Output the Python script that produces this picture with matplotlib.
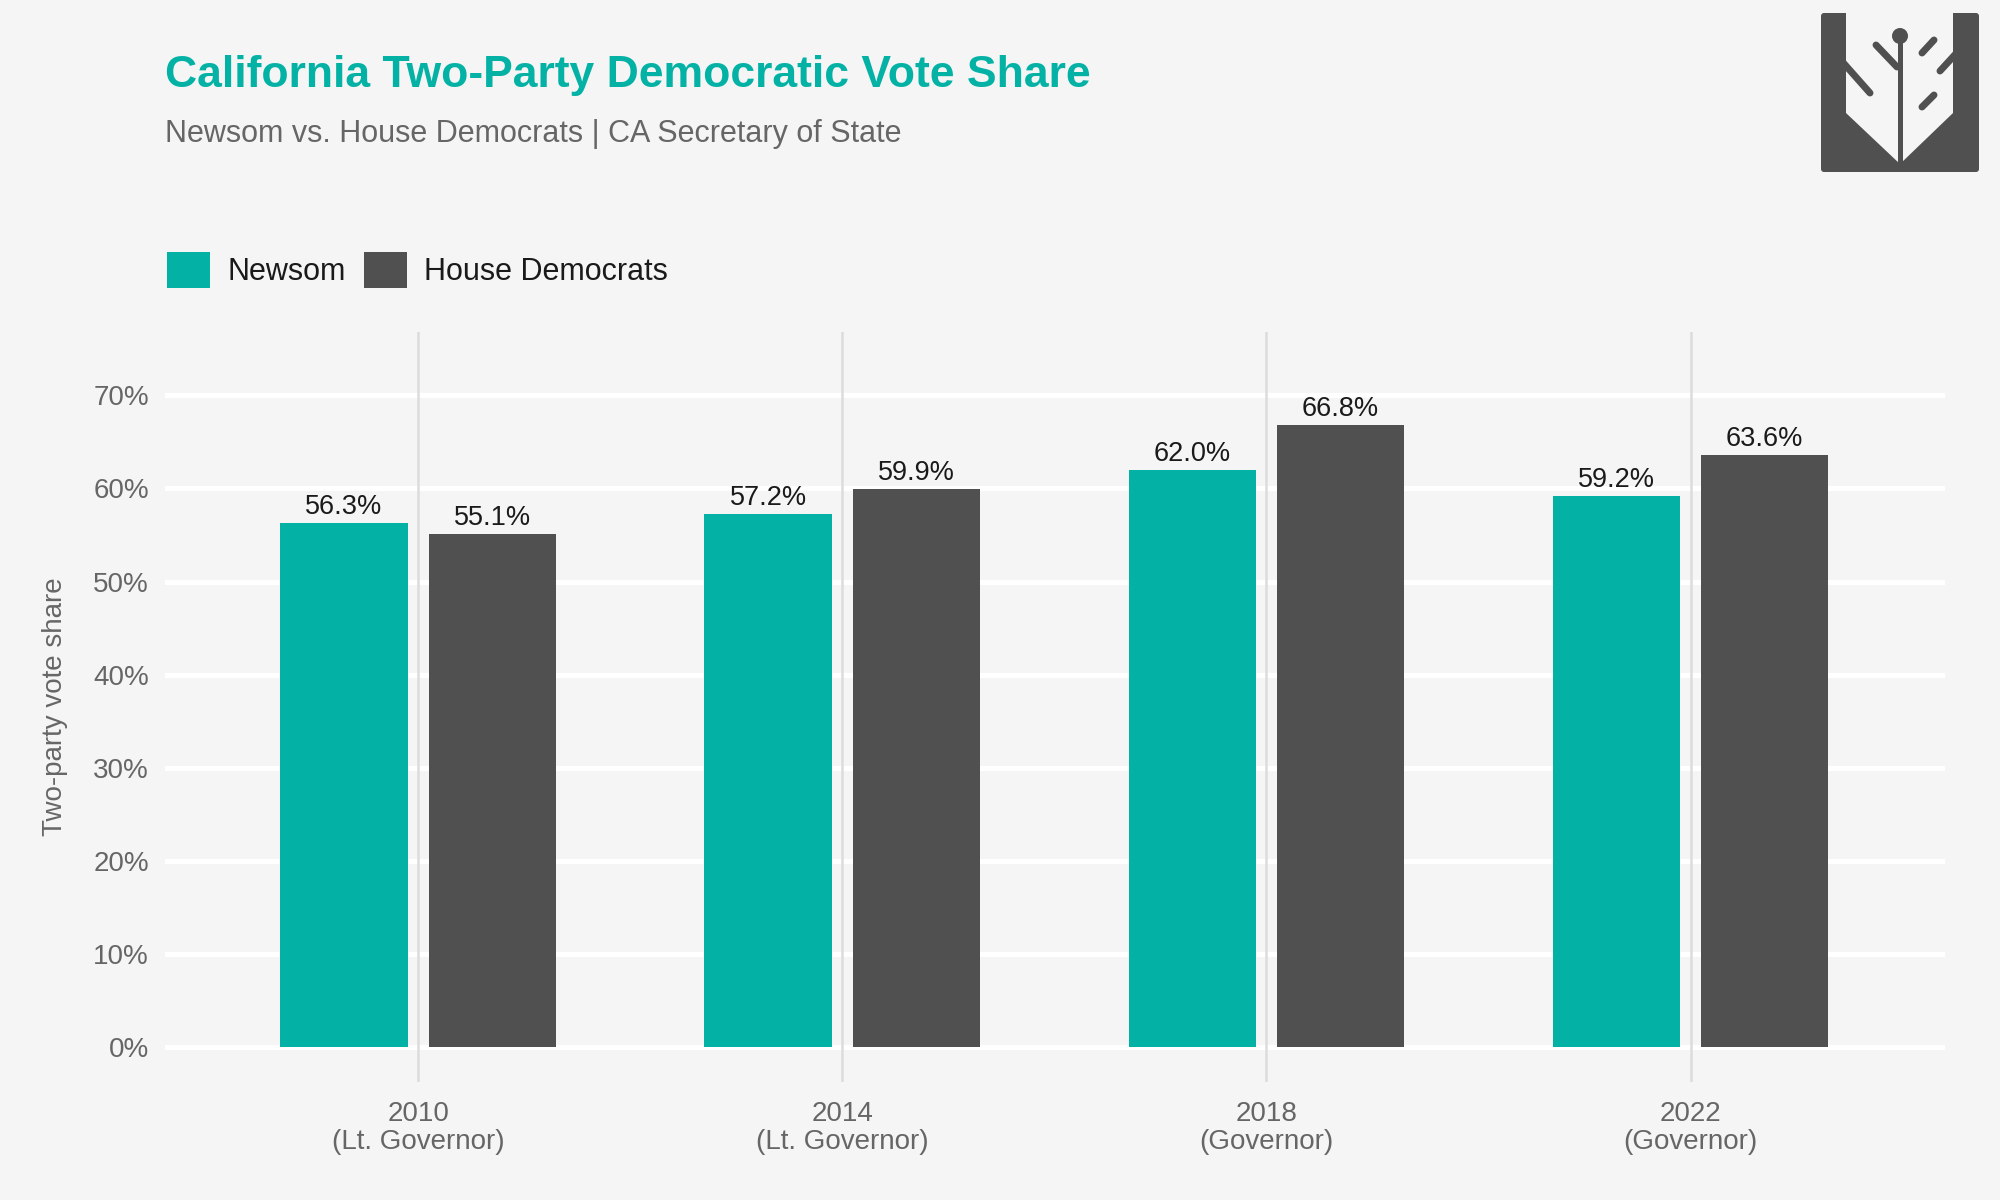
import matplotlib
matplotlib.use('Agg')
import matplotlib.pyplot as plt
import numpy as np
from matplotlib.patches import Patch, Polygon, FancyBboxPatch, Circle

plt.rcParams['font.family'] = ['Liberation Sans', 'DejaVu Sans']

# data
years = ['2010', '2014', '2018', '2022']
offices = ['(Lt. Governor)', '(Lt. Governor)', '(Governor)', '(Governor)']
newsom = [56.3, 57.2, 62.0, 59.2]
house_dems = [55.1, 59.9, 66.8, 63.6]
series_names = ['Newsom', 'House Democrats']

teal = '#04b2a5'
dark = '#505050'
bg = '#f5f5f5'
grey_txt = '#666666'

fig = plt.figure(figsize=(20, 12), dpi=100, facecolor=bg)
ax = fig.add_axes([165 / 2000, 1 - 1082 / 1200, 1780 / 2000, 750 / 1200])
ax.set_facecolor(bg)

x = np.arange(len(years))
w = 0.30
off = 0.175

# grid
ax.set_yticks(np.arange(0, 71, 10))
ax.set_yticklabels([f'{v}%' for v in range(0, 71, 10)])
for yv in range(0, 71, 10):
    ax.axhline(yv, color='white', lw=3.6, zorder=0)
for xv in x:
    ax.axvline(xv, color='#dcdcdc', lw=1.8, zorder=0.5)

b1 = ax.bar(x - off, newsom, w, color=teal, zorder=2)
b2 = ax.bar(x + off, house_dems, w, color=dark, zorder=2)

for bars, vals in [(b1, newsom), (b2, house_dems)]:
    for r, v in zip(bars, vals):
        ax.annotate(f'{v:.1f}%', (r.get_x() + r.get_width() / 2, v),
                    xytext=(0, 6.5), textcoords='offset points',
                    ha='center', va='baseline', fontsize=19.5, color='#1a1a1a')

ax.set_xlim(-0.597, 3.60)
ax.set_ylim(-3.76, 76.8)
ax.set_xticks(x)
ax.set_xticklabels([f'{y}\n{o}' for y, o in zip(years, offices)], linespacing=1.1)
ax.tick_params(axis='both', length=0, labelsize=20, labelcolor=grey_txt)
ax.tick_params(axis='y', pad=11.5)
ax.tick_params(axis='x', pad=14)
for s in ax.spines.values():
    s.set_visible(False)

ax.set_ylabel('Two-party vote share', fontsize=20, color=grey_txt)
ax.yaxis.set_label_coords((68 - 165) / 1780, 0.5)

# titles
fig.text(165 / 2000, 1 - 76 / 1200, 'California Two-Party Democratic Vote Share',
         fontsize=32, fontweight='bold', color=teal, va='center', ha='left')
fig.text(165 / 2000, 1 - 134 / 1200, 'Newsom vs. House Democrats | CA Secretary of State',
         fontsize=22, color=grey_txt, va='center', ha='left')

# legend
handles = [Patch(facecolor=teal, edgecolor='none'), Patch(facecolor=dark, edgecolor='none')]
fig.legend(handles, series_names, loc='center left',
           bbox_to_anchor=(167 / 2000, 1 - 270 / 1200), ncol=2, frameon=False,
           fontsize=22, handlelength=1.42, handleheight=1.42, handletextpad=0.55,
           columnspacing=0.6, borderaxespad=0, borderpad=0, labelcolor='#1a1a1a')

# logo
lax = fig.add_axes([0, 0, 1, 1], zorder=5)
lax.set_xlim(0, 2000)
lax.set_ylim(1200, 0)
lax.axis('off')
lax.patch.set_alpha(0)
lax.add_patch(FancyBboxPatch((1821, 13), 158, 159, boxstyle='round,pad=0,rounding_size=3',
                             facecolor=dark, edgecolor='none'))
lax.add_patch(Polygon([(1846, 12), (1953, 12), (1953, 113), (1900, 164), (1846, 113)],
                      closed=True, facecolor=bg, edgecolor='none'))
lax.plot([1900, 1900], [36, 164], color=dark, lw=3.6, solid_capstyle='butt')
lax.add_patch(Circle((1900, 36), 8, facecolor=dark, edgecolor='none'))
for (x0, y0), (x1, y1) in [((1876, 45), (1897, 67)), ((1843, 62.5), (1870, 93)),
                           ((1922, 53), (1934, 40)), ((1940, 71), (1957, 52.5)),
                           ((1922, 107), (1934, 95))]:
    lax.plot([x0, x1], [y0, y1], color=dark, lw=5, solid_capstyle='round')

fig.savefig('out.png', dpi=100, facecolor=bg)
